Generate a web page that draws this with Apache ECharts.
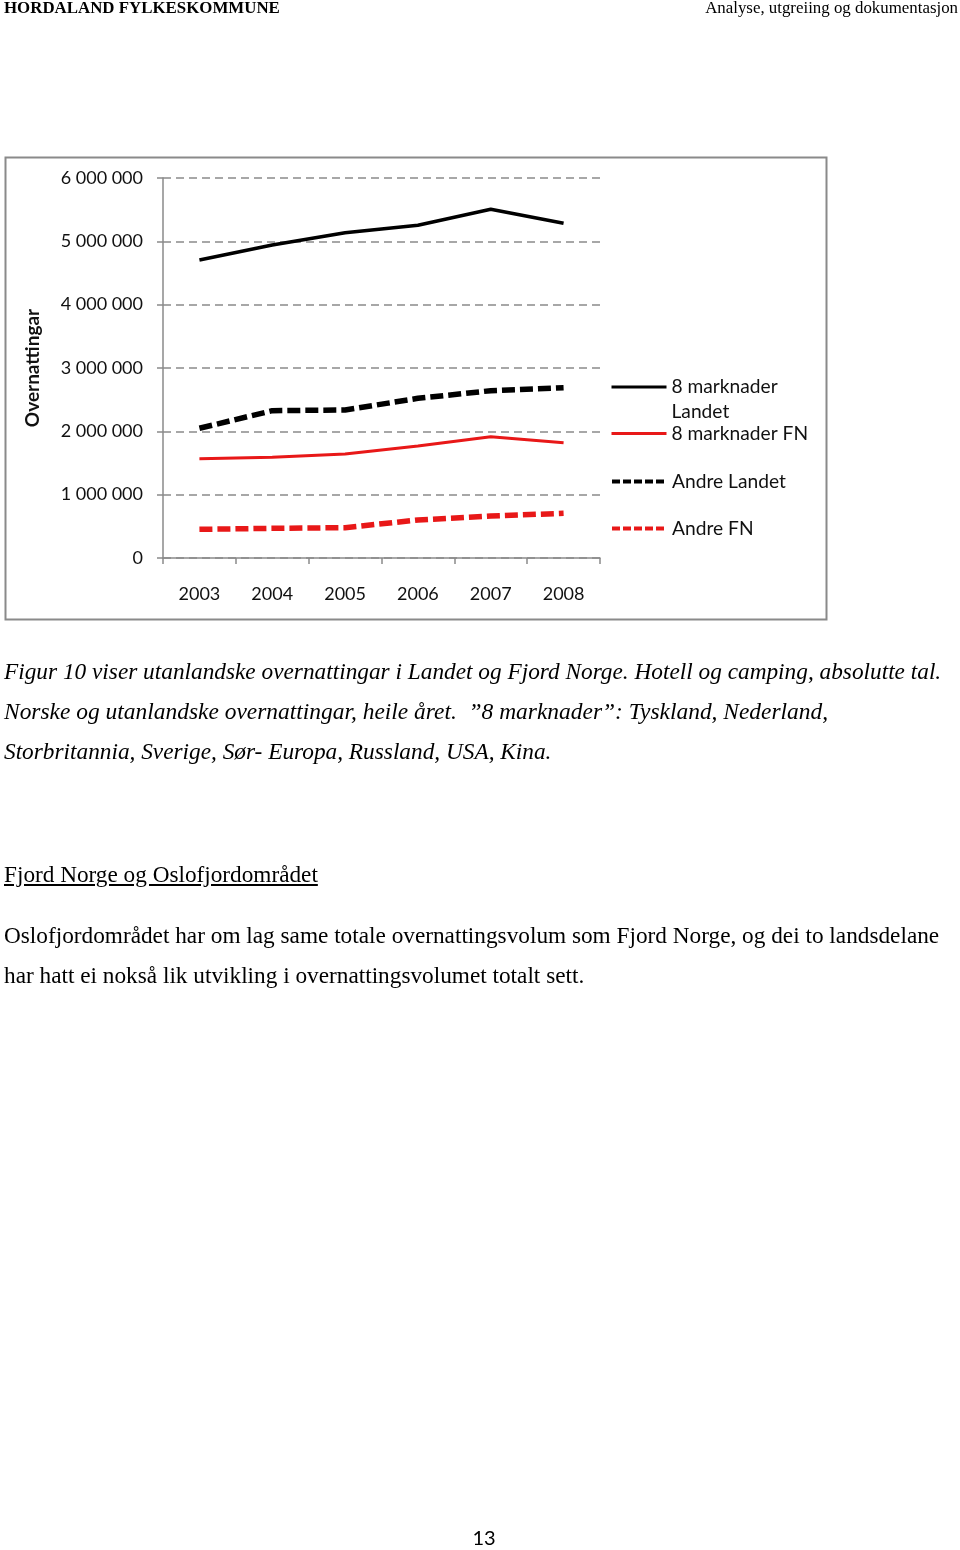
<!DOCTYPE html>
<html>
<head>
<meta charset="utf-8">
<script src="https://cdn.jsdelivr.net/npm/echarts@6/dist/echarts.min.js"></script>
<style>
  html, body { margin: 0; padding: 0; background: #fff; }
  #page { position: relative; width: 960px; height: 1550px; overflow: hidden; background: #fff; }
  #chart { position: absolute; left: 0; top: 0; width: 960px; height: 1550px; }
  .t { position: absolute; white-space: nowrap; line-height: 1; color: #000; font-family: "Liberation Serif", "Times New Roman", serif; z-index: 2; }
</style>
</head>
<body>
<div id="page">
  <div id="chart"></div>
  <div class="t" id="h1" style="font-weight:bold;">HORDALAND FYLKESKOMMUNE</div>
  <div class="t" id="h2">Analyse, utgreiing og dokumentasjon</div>
  <div class="t" id="c1" style="font-style:italic;">Figur 10 viser utanlandske overnattingar i Landet og Fjord Norge. Hotell og camping, absolutte tal.</div>
  <div class="t" id="c2" style="font-style:italic;">Norske og utanlandske overnattingar, heile året.&nbsp; ”8 marknader”: Tyskland, Nederland,</div>
  <div class="t" id="c3" style="font-style:italic;">Storbritannia, Sverige, Sør- Europa, Russland, USA, Kina.</div>
  <div class="t" id="s1" style="text-decoration:underline;">Fjord Norge og Oslofjordområdet</div>
  <div class="t" id="p1">Oslofjordområdet har om lag same totale overnattingsvolum som Fjord Norge, og dei to landsdelane</div>
  <div class="t" id="p2">har hatt ei nokså lik utvikling i overnattingsvolumet totalt sett.</div>
  <div class="t" id="pn" style="font-family:Lato,'Noto Sans',sans-serif;">13</div>
</div>
<script>
// ---- data ----
const years = ['2003', '2004', '2005', '2006', '2007', '2008'];
const marknader8Landet = [4705000, 4942000, 5137000, 5253000, 5506000, 5285000];
const marknader8FN = [1568000, 1590000, 1642000, 1768000, 1916000, 1821000];
const andreLandet = [2048000, 2326000, 2337000, 2521000, 2642000, 2689000];
const andreFN = [453000, 469000, 479000, 600000, 663000, 706000];
const yMin = 0, yMax = 6000000, yStep = 1000000;
const seriesNames = ['8 marknader Landet', '8 marknader FN', 'Andre Landet', 'Andre FN'];

// ---- page text placement ----
function place(id, x, baseline, width, fs, align) {
  const el = document.getElementById(id);
  el.style.fontSize = fs + 'px';
  if (width) {
    const w = el.getBoundingClientRect().width;
    fs = fs * width / w;
    el.style.fontSize = fs + 'px';
  }
  const asc = id === 'pn' ? 0.887 : 0.8375;
  el.style.top = (baseline - asc * fs) + 'px';
  if (align === 'right') {
    el.style.left = (x - el.getBoundingClientRect().width) + 'px';
  } else if (align === 'center') {
    el.style.left = (x - el.getBoundingClientRect().width / 2) + 'px';
  } else {
    el.style.left = x + 'px';
  }
}
place('h1', 4, 14.5, 276, 17);
place('h2', 958, 14.5, 253, 17, 'right');
place('c1', 4, 680, 938, 21);
const capFs = parseFloat(document.getElementById('c1').style.fontSize);
place('c2', 4, 720, null, capFs * 1.006);
place('c3', 4, 760, null, capFs);
place('s1', 4, 882, 314, 21);
place('p1', 4, 944, 936, 21);
place('p2', 4, 984, null, parseFloat(document.getElementById('p1').style.fontSize));
place('pn', 484, 1545, null, 20, 'center');

// ---- chart ----
const chart = echarts.init(document.getElementById('chart'));
const gray = '#8a8a8a';
const txt = '#111';
const font = 'Lato';
function fmt(v) { return String(v).replace(/\B(?=(\d{3})+(?!\d))/g, ' '); }

const legendBase = {
  orient: 'vertical', left: 610, padding: 0, itemWidth: 55, itemHeight: 24, itemGap: 0,
  selectedMode: false,
  itemStyle: { opacity: 0 },
  textStyle: { fontFamily: font, fontSize: 19.2, color: txt, lineHeight: 24 }
};

const option = {
  backgroundColor: 'transparent',
  animation: false,
  grid: { left: 163, top: 178, width: 437, height: 380, containLabel: false },
  xAxis: {
    type: 'category', data: years, boundaryGap: true,
    axisLine: { show: true, lineStyle: { color: gray, width: 1.5 } },
    axisTick: { show: true, length: 6, lineStyle: { color: gray, width: 1.5 } },
    axisLabel: { fontFamily: font, fontSize: 18, color: txt, margin: 27 },
    splitLine: { show: false }
  },
  yAxis: {
    type: 'value', min: yMin, max: yMax, interval: yStep,
    name: 'Overnattingar', nameLocation: 'middle', nameGap: 121, nameRotate: 90,
    nameTextStyle: { fontFamily: font, fontSize: 19, fontWeight: 'bold', color: txt },
    axisLine: { show: true, lineStyle: { color: gray, width: 1.5 } },
    axisTick: { show: true, length: 6, lineStyle: { color: gray, width: 1.5 } },
    axisLabel: { fontFamily: font, fontSize: 18, color: txt, margin: 20, formatter: fmt },
    splitLine: { show: true, lineStyle: { color: gray, width: 1.5, type: [8, 5] } }
  },
  legend: [
    Object.assign({}, legendBase, {
      data: [seriesNames[0]], top: 349.5,
      formatter: function () { return '\n8 marknader\nLandet'; },
      textStyle: Object.assign({}, legendBase.textStyle, { lineHeight: 25 }),
      lineStyle: { width: 3 }
    }),
    Object.assign({}, legendBase, { data: [seriesNames[1]], top: 421.5, lineStyle: { width: 3 } }),
    Object.assign({}, legendBase, { data: [seriesNames[2]], top: 469.5, lineStyle: { width: 4, type: [8, 3] } }),
    Object.assign({}, legendBase, { data: [seriesNames[3]], top: 516.5, lineStyle: { width: 4, type: [8, 3] } })
  ],
  series: [
    { name: seriesNames[0], type: 'line', data: marknader8Landet, symbol: 'none', color: '#000',
      lineStyle: { color: '#000', width: 3.5 } },
    { name: seriesNames[1], type: 'line', data: marknader8FN, symbol: 'none', color: '#e81818',
      lineStyle: { color: '#e81818', width: 3 } },
    { name: seriesNames[2], type: 'line', data: andreLandet, symbol: 'none', color: '#000',
      lineStyle: { color: '#000', width: 5.5, type: [13, 5] } },
    { name: seriesNames[3], type: 'line', data: andreFN, symbol: 'none', color: '#e81818',
      lineStyle: { color: '#e81818', width: 5.5, type: [13, 5] } }
  ],
  graphic: [
    { type: 'rect', silent: true, z: -1,
      shape: { x: 5.5, y: 157.5, width: 821, height: 462 },
      style: { fill: 'none', stroke: gray, lineWidth: 2 } }
  ]
};
chart.setOption(option);
</script>
</body>
</html>
